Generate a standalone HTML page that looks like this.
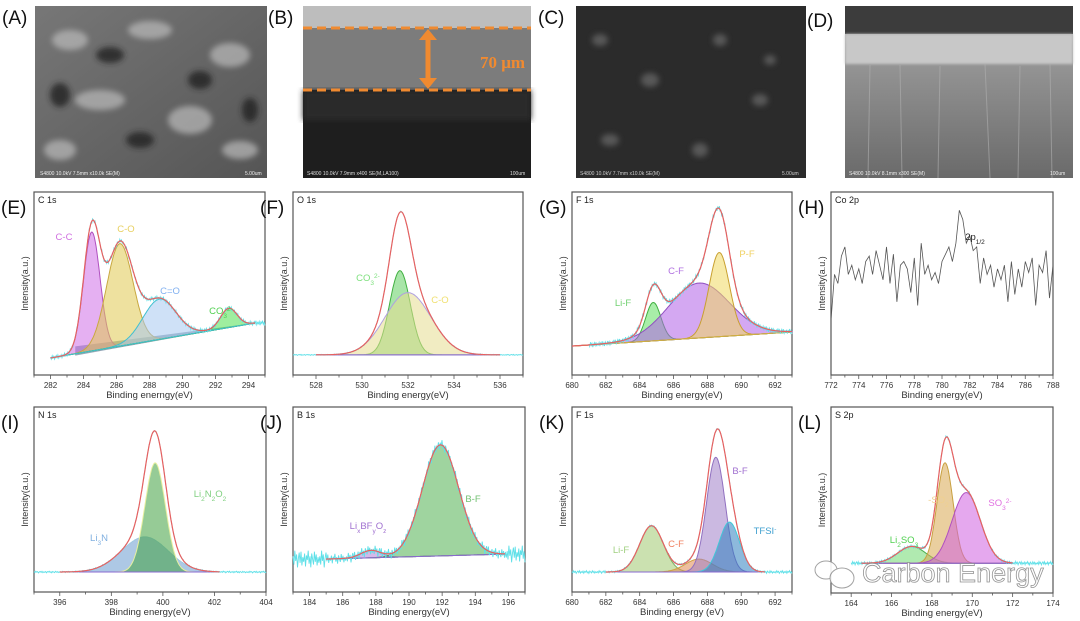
<!DOCTYPE html>
<html><head><meta charset="utf-8"><style>
html,body{margin:0;padding:0;background:#fff;width:1080px;height:621px;overflow:hidden}
svg{display:block;font-family:"Liberation Sans",sans-serif}
</style></head><body>
<svg id="fig" width="1080" height="621" viewBox="0 0 1080 621">
<defs>
<filter id="blur3"><feGaussianBlur stdDeviation="3"/></filter>
<filter id="blur1"><feGaussianBlur stdDeviation="1.2"/></filter>
<linearGradient id="gA" x1="0" y1="0" x2="1" y2="1"><stop offset="0" stop-color="#777"/><stop offset="1" stop-color="#555"/></linearGradient>
<linearGradient id="gD" x1="0" y1="0" x2="0" y2="1"><stop offset="0" stop-color="#d0d0d0"/><stop offset="0.25" stop-color="#9a9a9a"/><stop offset="1" stop-color="#6a6a6a"/></linearGradient>
</defs>
<g>
<rect x="35" y="6" width="232" height="172" fill="url(#gA)"/>
<g filter="url(#blur3)" fill="#bbb" opacity="0.7">
<ellipse cx="70" cy="40" rx="18" ry="10"/><ellipse cx="150" cy="30" rx="22" ry="9"/><ellipse cx="230" cy="55" rx="20" ry="12"/>
<ellipse cx="100" cy="100" rx="25" ry="10"/><ellipse cx="190" cy="120" rx="22" ry="14"/><ellipse cx="60" cy="150" rx="16" ry="10"/><ellipse cx="240" cy="150" rx="18" ry="9"/></g>
<g filter="url(#blur3)" fill="#222" opacity="0.8">
<ellipse cx="110" cy="55" rx="14" ry="8"/><ellipse cx="200" cy="80" rx="12" ry="9"/><ellipse cx="60" cy="95" rx="10" ry="12"/><ellipse cx="140" cy="140" rx="14" ry="8"/><ellipse cx="250" cy="110" rx="8" ry="12"/></g>
<text x="40" y="175" font-size="5" fill="#eee">S4800 10.0kV 7.5mm x10.0k SE(M)</text><text x="245" y="175" font-size="5" fill="#eee">5.00um</text>
</g>
<g>
<rect x="303" y="6" width="228" height="172" fill="#1e1e1e"/>
<rect x="303" y="6" width="228" height="22" fill="#bdbdbd"/>
<rect x="303" y="28" width="228" height="62" fill="#7c7c7c"/>
<rect x="303" y="90" width="228" height="30" fill="#2c2c2c" filter="url(#blur3)"/>
<line x1="303" y1="28" x2="531" y2="28" stroke="#f08a30" stroke-width="3" stroke-dasharray="9 5"/>
<line x1="303" y1="90" x2="531" y2="90" stroke="#f08a30" stroke-width="3" stroke-dasharray="9 5"/>
<line x1="428" y1="38" x2="428" y2="80" stroke="#f08a30" stroke-width="5"/>
<polygon points="419,40 437,40 428,29" fill="#f08a30"/><polygon points="419,78 437,78 428,89" fill="#f08a30"/>
<text x="480" y="68" font-family="Liberation Serif,serif" font-weight="bold" font-size="17" fill="#f08a30">70 μm</text>
<text x="307" y="175" font-size="5" fill="#ddd">S4800 10.0kV 7.9mm x400 SE(M,LA100)</text><text x="510" y="175" font-size="5" fill="#ddd">100um</text>
</g>
<g>
<rect x="576" y="6" width="230" height="172" fill="#2b2b2b"/>
<g filter="url(#blur3)" fill="#777" opacity="0.6">
<ellipse cx="600" cy="40" rx="8" ry="6"/><ellipse cx="650" cy="80" rx="9" ry="7"/><ellipse cx="720" cy="40" rx="7" ry="6"/><ellipse cx="760" cy="100" rx="8" ry="6"/><ellipse cx="610" cy="140" rx="9" ry="6"/><ellipse cx="700" cy="150" rx="8" ry="7"/><ellipse cx="770" cy="60" rx="6" ry="5"/></g>
<text x="580" y="175" font-size="5" fill="#ccc">S4800 10.0kV 7.7mm x10.0k SE(M)</text><text x="782" y="175" font-size="5" fill="#ccc">5.00um</text>
</g>
<g>
<rect x="845" y="6" width="228" height="172" fill="url(#gD)"/>
<rect x="845" y="6" width="228" height="28" fill="#3c3c3c"/>
<rect x="845" y="34" width="228" height="30" fill="#c8c8c8" filter="url(#blur1)"/>
<g stroke="#b0b0b0" stroke-width="1" opacity="0.6">
<line x1="870" y1="65" x2="868" y2="178"/><line x1="900" y1="65" x2="902" y2="178"/><line x1="940" y1="66" x2="938" y2="178"/><line x1="985" y1="64" x2="990" y2="178"/><line x1="1020" y1="66" x2="1018" y2="178"/><line x1="1050" y1="64" x2="1052" y2="178"/></g>
<text x="849" y="175" font-size="5" fill="#eee">S4800 10.0kV 8.1mm x300 SE(M)</text><text x="1050" y="175" font-size="5" fill="#eee">100um</text>
</g>
<g font-size="19" fill="#111">
<text x="2" y="24">(A)</text>
<text x="268" y="24">(B)</text>
<text x="538" y="24">(C)</text>
<text x="807" y="27">(D)</text>
</g>
<g id="charts"></g>
<g opacity="0.9">
<ellipse cx="826" cy="570" rx="11" ry="9" fill="#fff" stroke="#999" stroke-width="1"/>
<ellipse cx="842" cy="578" rx="12" ry="10" fill="#fff" stroke="#999" stroke-width="1"/>
<text x="862" y="582" font-size="27" fill="#fff" stroke="#888" stroke-width="0.8">Carbon Energy</text>
</g>
</svg>
<script>
// ---------------- data ----------------
const noiseVals=[0.3,-0.6,0.9,-0.2,0.5,-0.9,0.1,0.7,-0.4,0.8,-0.7,0.2,-0.3,0.6,-0.8,0.4,-0.1,0.9,-0.5,0.3,-0.9,0.6,0.0,-0.6,0.8,-0.3,0.5,-0.7,0.2,-0.4];
// E: C 1s
const E_centers=[284.5,286.2,288.6,292.8], E_amps=[65,56,22,10.5], E_sigmas=[0.5,0.8,1.0,0.5];
// F: O 1s
const F_centers=[531.65,532.0], F_amps=[46,34], F_sigmas=[0.45,1.0];
// G: F 1s
const G_centers=[684.8,687.5,688.7], G_amps=[21,30,46], G_sigmas=[0.45,1.8,0.6];
// H: Co 2p raw
const H_values=[30,55,50,65,70,55,60,52,58,50,62,65,55,68,60,52,70,50,66,40,60,62,58,45,64,38,72,55,60,52,56,50,62,66,70,62,72,90,85,72,76,68,70,50,64,55,60,48,58,52,60,40,62,44,58,48,62,56,64,38,60,56,68,42,60];
// I: N 1s
const I_centers=[399.3,399.7], I_amps=[19,59], I_sigmas=[0.9,0.4];
// J: B 1s
const J_centers=[187.7,191.9], J_amps=[4,60], J_sigmas=[0.6,1.1];
// K: F 1s
const K_centers=[684.7,687.5,688.5,689.3], K_amps=[25,7,62,27], K_sigmas=[0.7,0.8,0.55,0.6];
// L: S 2p
const L_centers=[167.0,168.65,169.7], L_amps=[9,54,38], L_sigmas=[0.7,0.4,0.7];
// tick labels
const E_ticks=[282,284,286,288,290,292,294], F_ticks=[528,530,532,534,536], G_ticks=[680,682,684,686,688,690,692];
const H_ticks=[772,774,776,778,780,782,784,786,788], I_ticks=[396,398,400,402,404], J_ticks=[184,186,188,190,192,194,196];
const K_ticks=[680,682,684,686,688,690,692], L_ticks=[164,166,168,170,172,174];

const NS='http://www.w3.org/2000/svg';
const root=document.getElementById('charts');
function el(tag,attrs,parent){const e=document.createElementNS(NS,tag);for(const k in attrs)e.setAttribute(k,attrs[k]);(parent||root).appendChild(e);return e;}

function panel(c){
  const g=el('g',{});
  
  
  const X=v=>c.L+(v-c.xmin)/(c.xmax-c.xmin)*(c.R-c.L);
  const Y=v=>c.B-v/100*(c.B-c.T);
  const bl=v=>{const t=Math.max(0,Math.min(1,(v-c.r0)/(c.r1-c.r0)));return c.bl0+(c.bl1-c.bl0)*t;};
  const gauss=(v,i)=>c.amps[i]*Math.exp(-Math.pow(v-c.centers[i],2)/(2*c.sigmas[i]*c.sigmas[i]));
  const frame=el('rect',{x:c.L,y:c.T,width:c.R-c.L,height:c.B-c.T,fill:'none',stroke:'#555','stroke-width':1.2},g);
  
  
  const step=c.ticks[1]-c.ticks[0];
  for(let t=c.ticks[0]-step;t<=c.xmax+1e-6;t+=step/2){
    if(t<c.xmin-1e-6)continue;
    const major=c.ticks.some(k=>Math.abs(k-t)<1e-6);
    el('line',{x1:X(t),x2:X(t),y1:c.B,y2:c.B+(major?4:2.5),stroke:'#555','stroke-width':0.8},g);
  }
  c.ticks.forEach(t=>{
    const tx=el('text',{x:X(t),y:c.B+13,'font-size':8,fill:'#333','text-anchor':'middle'},g);
    tx.textContent=t;
    
    
  });
  const xt=el('text',{x:(c.L+c.R)/2,y:c.B+23,'font-size':9.5,fill:'#333','text-anchor':'middle'},g);
  xt.textContent=c.xtitle;
  
  
  const yt=el('text',{x:0,y:0,'font-size':9,fill:'#333','text-anchor':'middle',transform:`translate(${c.L-6},${(c.T+c.B)/2}) rotate(-90)`},g);
  yt.textContent='Intensity(a.u.)';
  
  
  const et=el('text',{x:c.L+4,y:c.T+11,'font-size':9,fill:'#222'},g);
  et.textContent=c.elem;
  
  
  const pl=el('text',{x:c.L-33,y:c.T+22,'font-size':19,fill:'#111'},g);
  pl.textContent=c.letter;
  
  
  if(c.raw){
    let d='';
    c.raw.forEach((v,i)=>{const x=c.xmin+i*(c.xmax-c.xmin)/(c.raw.length-1);d+=(i?'L':'M')+X(x).toFixed(1)+','+Y(v).toFixed(1);});
    const p=el('path',{d:d,fill:'none',stroke:'#555','stroke-width':0.8},g);
    
    
  } else {
    const N=220;
    if(c.tri){
      const tr=el('path',{d:`M${X(c.r0+1.5)},${Y(bl(c.r0+1.5)-1)}L${X(c.r1)},${Y(c.bl1)}L${X(c.r0+1.5)},${Y(bl(c.r0+1.5)+4)}Z`,fill:'#3c6080','fill-opacity':0.55},g);
      
      
    }
    c.centers.forEach((ce,i)=>{
      let d='';
      for(let k=0;k<=N;k++){const v=c.r0+k*(c.r1-c.r0)/N;d+=(k?'L':'M')+X(v).toFixed(1)+','+Y(bl(v)+gauss(v,i)).toFixed(1);}
      for(let k=N;k>=0;k--){const v=c.r0+k*(c.r1-c.r0)/N;d+='L'+X(v).toFixed(1)+','+Y(bl(v)).toFixed(1);}
      d+='Z';
      const p=el('path',{d:d,fill:c.fills[i],'fill-opacity':0.55,stroke:c.edges[i],'stroke-width':1},g);
      
      
    });
    const b=el('line',{x1:X(c.r0),y1:Y(c.bl0),x2:X(c.r1),y2:Y(c.bl1),stroke:c.blColor||'#8a6ad0','stroke-width':1},g);
    
    
    const env=v=>{let s=bl(v);c.centers.forEach((_,i)=>s+=gauss(v,i));return s;};
    let d='';const M=260;
    for(let k=0;k<=M;k++){const v=c.n0+k*(c.n1-c.n0)/M;const inside=v>=c.r0&&v<=c.r1;
      const nz=noiseVals[k%noiseVals.length]*(inside?c.nIn:c.nOut);
      d+=(k?'L':'M')+X(v).toFixed(1)+','+Y(env(v)+nz).toFixed(1);}
    const raw=el('path',{d:d,fill:'none',stroke:'#5fe0e8','stroke-width':0.9},g);
    
    
    let e='';
    for(let k=0;k<=N;k++){const v=c.r0+k*(c.r1-c.r0)/N;e+=(k?'L':'M')+X(v).toFixed(1)+','+Y(env(v)).toFixed(1);}
    const ep=el('path',{d:e,fill:'none',stroke:'#e86060','stroke-width':1.2},g);
    
    
  }
  (c.labels||[]).forEach(l=>{
    const t=el('text',{x:l[1],y:l[2],'font-size':9.5,fill:l[3],'text-anchor':'middle'},g);
    t.innerHTML=l[0];
    
    
  });
}
const sub=s=>`<tspan font-size="6.5" baseline-shift="sub">${s}</tspan>`;
const sup=s=>`<tspan font-size="6.5" baseline-shift="super">${s}</tspan>`;

panel({id:'e',letter:'(E)',elem:'C 1s',L:34,R:265,T:192,B:375,xmin:281,xmax:295,ticks:E_ticks,xtitle:'Binding enerngy(eV)',
 centers:E_centers,amps:E_amps,sigmas:E_sigmas,fills:['#d070e8','#e0c850','#a8c8f0','#50e050'],edges:['#b050c0','#c8a840','#40c0d0','#30b030'],
 r0:282,r1:294.4,bl0:9.3,bl1:28.4,n0:282,n1:295,nIn:1.2,nOut:1.5,tri:true,blColor:'#40c0d0',
 labels:[['C-C',64,240,'#d070e0'],['C-O',126,232,'#e8d060'],['C=O',170,294,'#80b0f0'],['CO'+sub('3')+sup('2-'),221,314,'#50d050']]});
panel({id:'f',letter:'(F)',elem:'O 1s',L:293,R:523,T:192,B:375,xmin:527,xmax:537,ticks:F_ticks,xtitle:'Binding energy(eV)',
 centers:F_centers,amps:F_amps,sigmas:F_sigmas,fills:['#60d060','#e6dc90'],edges:['#40b040','#b0a0e0'],
 r0:528,r1:536,bl0:11,bl1:11,n0:527,n1:537,nIn:0.3,nOut:0.3,
 labels:[['CO'+sub('3')+sup('2-'),368,281,'#7ee07e'],['C-O',440,303,'#f0e070']]});
panel({id:'g',letter:'(G)',elem:'F 1s',L:572,R:792,T:192,B:375,xmin:680,xmax:693,ticks:G_ticks,xtitle:'Binding energy(eV)',
 centers:G_centers,amps:G_amps,sigmas:G_sigmas,fills:['#60e060','#b060e8','#f0d860'],edges:['#40b040','#9050c0','#c8a030'],
 r0:680,r1:693,bl0:15.8,bl1:23.5,n0:681,n1:693,nIn:1.5,nOut:1.5,blColor:'#d0b040',
 labels:[['Li-F',623,306,'#70d070'],['C-F',676,274,'#b070e0'],['P-F',747,257,'#f0d060']]});
panel({id:'h',letter:'(H)',elem:'Co 2p',L:831,R:1053,T:192,B:375,xmin:772,xmax:788,ticks:H_ticks,xtitle:'Binding energy(eV)',
 raw:H_values,labels:[['2p'+sub('1/2'),975,240,'#222']]});
panel({id:'i',letter:'(I)',elem:'N 1s',L:34,R:266,T:407,B:592,xmin:395,xmax:404,ticks:I_ticks,xtitle:'Binding energy(eV)',
 centers:I_centers,amps:I_amps,sigmas:I_sigmas,fills:['#6a9ad0','#40a040'],edges:['#a0c8e0','#e8f0a0'],
 r0:396,r1:402.2,bl0:10.8,bl1:10.8,n0:395,n1:404,nIn:0.4,nOut:0.5,
 labels:[['Li'+sub('3')+'N',99,541,'#80b0e0'],['Li'+sub('2')+'N'+sub('2')+'O'+sub('2'),210,497,'#80d080']]});
panel({id:'j',letter:'(J)',elem:'B 1s',L:293,R:525,T:407,B:592,xmin:183,xmax:197,ticks:J_ticks,xtitle:'Binding energy(eV)',
 centers:J_centers,amps:J_amps,sigmas:J_sigmas,fills:['#b080d8','#50b050'],edges:['#9060c0','#609060'],
 r0:185,r1:195.8,bl0:17.8,bl1:20.5,n0:183,n1:197,nIn:3,nOut:5,
 labels:[['Li'+sub('x')+'BF'+sub('y')+'O'+sub('z'),368,529,'#a070d0'],['B-F',473,502,'#70c070']]});
panel({id:'k',letter:'(K)',elem:'F 1s',L:572,R:792,T:407,B:592,xmin:680,xmax:693,ticks:K_ticks,xtitle:'Binding energy (eV)',
 centers:K_centers,amps:K_amps,sigmas:K_sigmas,fills:['#a0c870','#e08850','#a080c8','#3080c0'],edges:['#80b060','#d0a040','#9070c0','#40c8d8'],
 r0:682,r1:691.4,bl0:10.8,bl1:10.8,n0:680,n1:693,nIn:0.6,nOut:0.8,
 labels:[['Li-F',621,553,'#a0d080'],['C-F',676,547,'#f08060'],['B-F',740,474,'#a070d0'],['TFSI'+sup('-'),765,534,'#40a0d0']]});
panel({id:'l',letter:'(L)',elem:'S 2p',L:831,R:1053,T:407,B:593,xmin:163,xmax:174,ticks:L_ticks,xtitle:'Binding energy(eV)',
 centers:L_centers,amps:L_amps,sigmas:L_sigmas,fills:['#70d870','#d8a850','#d060e0'],edges:['#50b050','#c8a040','#b050c0'],
 r0:164.5,r1:172,bl0:16,bl1:16,n0:164,n1:174,nIn:0.8,nOut:1,
 labels:[['Li'+sub('2')+'SO'+sub('3'),904,543,'#50d050'],['-SO'+sub('2')+'-',940,503,'#f0d090'],['SO'+sub('3')+sup('2-'),1000,506,'#e070e0']]});
</script>
</body></html>
